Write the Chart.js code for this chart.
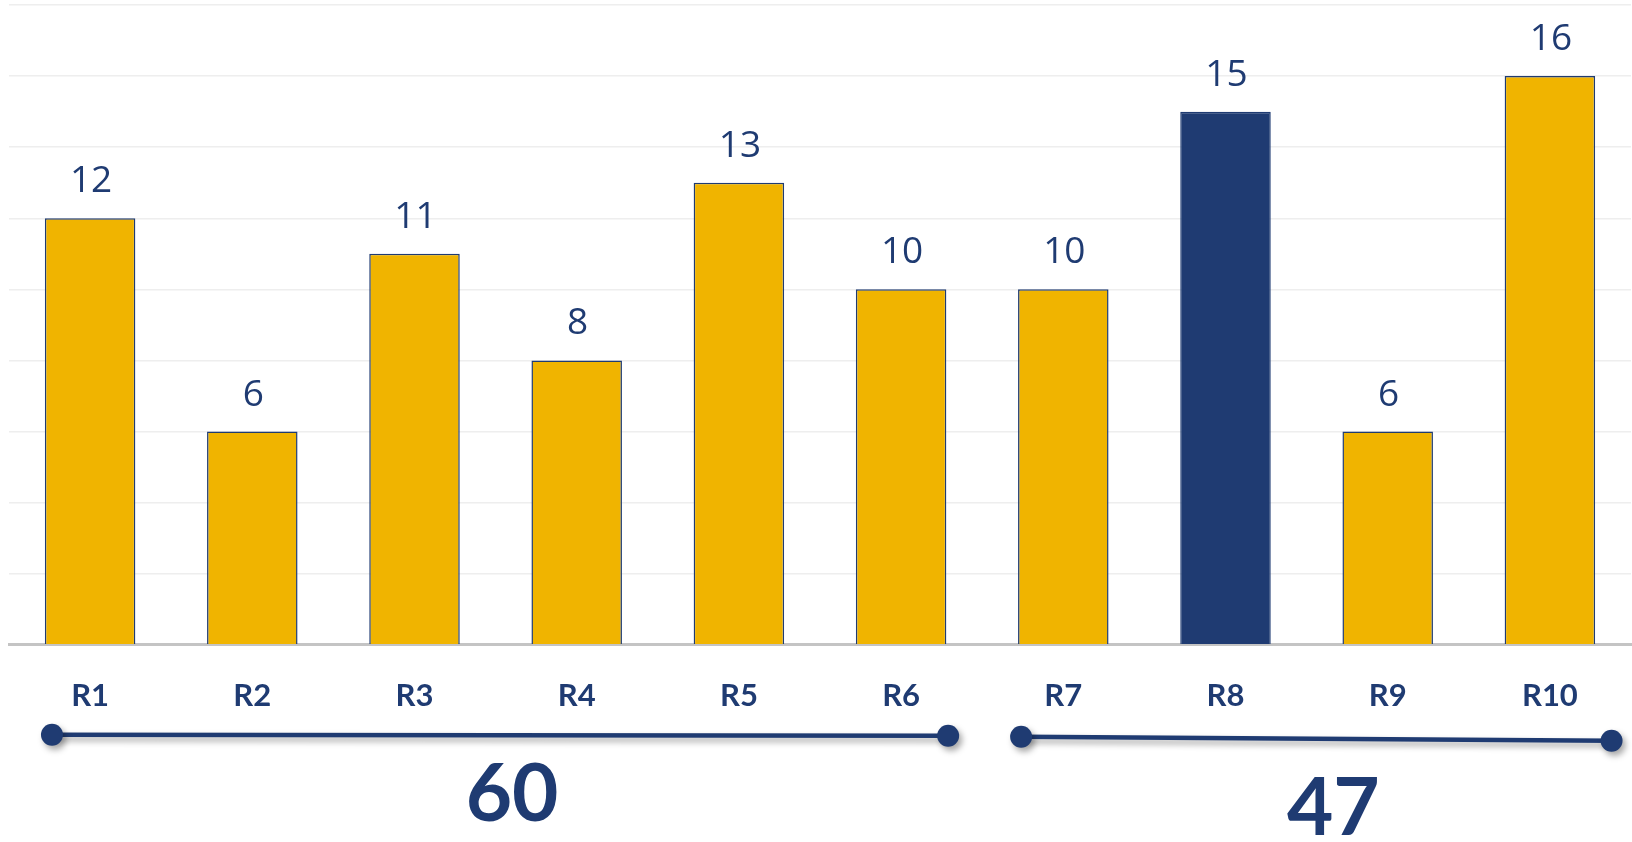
<!DOCTYPE html>
<html>
<head>
<meta charset="utf-8">
<script src="https://cdn.jsdelivr.net/npm/chart.js@4.4.0/dist/chart.umd.min.js"></script>
<style>
  html, body { margin: 0; padding: 0; background: #ffffff; }
  #wrap { width: 1632px; height: 842px; position: relative; overflow: hidden; }
</style>
</head>
<body>
<div id="wrap"><canvas id="c" width="1632" height="842"></canvas></div>
<script>
// ---- data ----
const categories = ['R1', 'R2', 'R3', 'R4', 'R5', 'R6', 'R7', 'R8', 'R9', 'R10'];
const values = [12, 6, 11, 8, 13, 10, 10, 15, 6, 16];
const highlighted = [false, false, false, false, false, false, false, true, false, false];
const yTicks = [0, 2, 4, 6, 8, 10, 12, 14, 16, 18];
const groupStart = [0, 6];
const groupEnd = [5, 9];
const groupTotals = ['60', '47'];

// ---- styles ----
const GOLD = '#F0B400';
const NAVY = '#1F3B72';

const valueLabelPlugin = {
  id: 'valueLabels',
  afterDatasetsDraw(chart) {
    const ctx = chart.ctx;
    const meta = chart.getDatasetMeta(0);
    ctx.save();
    ctx.fillStyle = NAVY;
    ctx.font = '400 37px "Open Sans"';
    ctx.textAlign = 'center';
    ctx.textBaseline = 'alphabetic';
    meta.data.forEach((bar, i) => {
      ctx.fillText(String(values[i]), bar.x + 1, bar.y - 26);
    });
    ctx.restore();
  }
};

const groupPlugin = {
  id: 'groups',
  afterDraw(chart) {
    const ctx = chart.ctx;
    const x = chart.scales.x;
    const area = chart.chartArea;
    const cw = x.getPixelForValue(1) - x.getPixelForValue(0);
    const startOff = [-0.235, -0.26];
    const endOff = [0.29, 0.38];
    const yStart = [area.bottom + 90, area.bottom + 92];
    const yEnd = [area.bottom + 91, area.bottom + 96];
    const textY = [area.bottom + 176, area.bottom + 190];
    const textDx = [12, 17];
    for (let g = 0; g < groupStart.length; g++) {
      const x1 = x.getPixelForValue(groupStart[g]) + startOff[g] * cw;
      const x2 = x.getPixelForValue(groupEnd[g]) + endOff[g] * cw;
      const y1 = yStart[g], y2 = yEnd[g];
      ctx.save();
      ctx.shadowColor = 'rgba(0,0,0,0.35)';
      ctx.shadowBlur = 6;
      ctx.shadowOffsetX = 3;
      ctx.shadowOffsetY = 4;
      ctx.strokeStyle = NAVY;
      ctx.lineWidth = 4.5;
      ctx.beginPath();
      ctx.moveTo(x1, y1);
      ctx.lineTo(x2, y2);
      ctx.stroke();
      ctx.fillStyle = NAVY;
      ctx.beginPath();
      ctx.arc(x1, y1, 11, 0, Math.PI * 2);
      ctx.fill();
      ctx.beginPath();
      ctx.arc(x2, y2, 11, 0, Math.PI * 2);
      ctx.fill();
      ctx.restore();

      ctx.save();
      ctx.fillStyle = NAVY;
      ctx.font = '700 80px Lato';
      ctx.textAlign = 'center';
      ctx.textBaseline = 'alphabetic';
      ctx.fillText(groupTotals[g], (x1 + x2) / 2 + textDx[g], textY[g]);
      ctx.restore();
    }
  }
};

new Chart(document.getElementById('c'), {
  type: 'bar',
  data: {
    labels: categories,
    datasets: [{
      data: values,
      backgroundColor: highlighted.map(h => h ? NAVY : GOLD),
      borderColor: NAVY,
      borderWidth: 1.5,
      categoryPercentage: 1.0,
      barPercentage: 0.558
    }]
  },
  options: {
    responsive: false,
    devicePixelRatio: 1,
    animation: false,
    layout: { padding: { left: 9, right: 1, top: 5, bottom: 94 } },
    plugins: { legend: { display: false }, tooltip: { enabled: false } },
    scales: {
      x: {
        grid: { display: false, drawTicks: false },
        border: { display: true, color: '#C4C4C4', width: 3 },
        ticks: {
          color: NAVY,
          font: { family: 'Lato', size: 31, weight: '700' },
          padding: 33,
          maxRotation: 0
        }
      },
      y: {
        min: yTicks[0],
        max: yTicks[yTicks.length - 1],
        ticks: { display: false, stepSize: yTicks[1] - yTicks[0] },
        grid: { color: '#EEEEEE', lineWidth: 1.5, drawTicks: false },
        border: { display: false }
      }
    }
  },
  plugins: [valueLabelPlugin, groupPlugin]
});
</script>
</body>
</html>
